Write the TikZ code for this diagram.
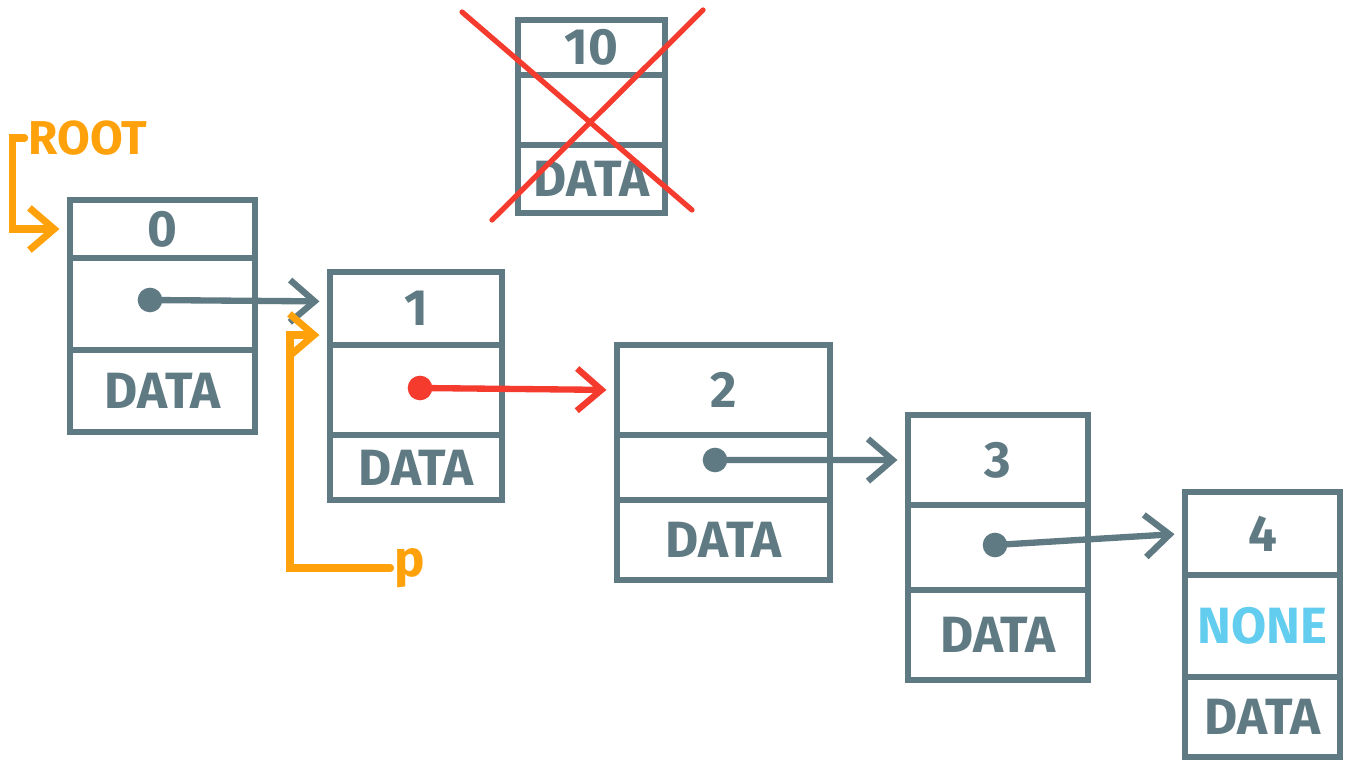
\documentclass[tikz,border=0pt]{standalone}
\usepackage{fontspec}
\setmainfont{Fira Sans}
\usepackage{xcolor}
\usetikzlibrary{arrows.meta, positioning}

\definecolor{slate}{HTML}{5F7A82}
\definecolor{refor}{HTML}{FFA10A}
\definecolor{hotred}{HTML}{F43B2E}
\definecolor{skyblue}{HTML}{62CDEE}

\begin{document}
\begin{tikzpicture}[
  x=0.01cm, y=-0.01cm,
  font=\fontsize{14.5}{17}\selectfont\bfseries,
  cell/.style={draw=slate, line width=1.8pt, text=slate, inner sep=0pt, outer sep=0pt,
               anchor=north west},
  dot/.style={circle, fill=slate, inner sep=0pt, minimum size=7pt},
  ptr/.style={-{Straight Barb[length=7pt, width=12pt]}, line width=1.8pt, draw=slate,
              line cap=round, shorten >=3pt},
  ref/.style={-{Straight Barb[length=7pt, width=12pt]}, line width=2pt, draw=refor,
              line cap=round, shorten >=3pt},
  lbl/.style={text=refor, inner sep=1pt},
]
\useasboundingbox (0,0) rectangle (1348,761);

%% ── Node 0 ────────────────────────────────────────────────────────────────
\node[cell, minimum width=1.85cm, minimum height=0.58cm] (b0key)  at (70,200)           {0};
\node[cell, minimum width=1.85cm, minimum height=0.92cm] (b0ptr)  at (b0key.south west) {};
\node[cell, minimum width=1.85cm, minimum height=0.82cm] (b0data) at (b0ptr.south west) {DATA};

%% ── Node 1 ────────────────────────────────────────────────────────────────
\node[cell, minimum width=1.72cm, minimum height=0.73cm] (b1key)  at (330,272)          {1};
\node[cell, minimum width=1.72cm, minimum height=0.90cm] (b1ptr)  at (b1key.south west) {};
\node[cell, minimum width=1.72cm, minimum height=0.65cm] (b1data) at (b1ptr.south west) {DATA};

%% ── Node 2 ────────────────────────────────────────────────────────────────
\node[cell, minimum width=2.13cm, minimum height=0.90cm] (b2key)  at (617,345)          {2};
\node[cell, minimum width=2.13cm, minimum height=0.65cm] (b2ptr)  at (b2key.south west) {};
\node[cell, minimum width=2.13cm, minimum height=0.80cm] (b2data) at (b2ptr.south west) {DATA};

%% ── Node 3 ────────────────────────────────────────────────────────────────
\node[cell, minimum width=1.80cm, minimum height=0.90cm] (b3key)  at (908,415)          {3};
\node[cell, minimum width=1.80cm, minimum height=0.85cm] (b3ptr)  at (b3key.south west) {};
\node[cell, minimum width=1.80cm, minimum height=0.90cm] (b3data) at (b3ptr.south west) {DATA};

%% ── Node 4 (tail) ─────────────────────────────────────────────────────────
\node[cell, minimum width=1.55cm, minimum height=0.83cm] (b4key)  at (1185,492)         {4};
\node[cell, minimum width=1.55cm, minimum height=1.02cm, text=skyblue]
                                                          (b4ptr)  at (b4key.south west) {NONE};
\node[cell, minimum width=1.55cm, minimum height=0.80cm] (b4data) at (b4ptr.south west) {DATA};

%% ── Removed node 10 ───────────────────────────────────────────────────────
\node[cell, minimum width=1.47cm, minimum height=0.55cm] (b10key)  at (518,20)            {10};
\node[cell, minimum width=1.47cm, minimum height=0.70cm] (b10ptr)  at (b10key.south west) {};
\node[cell, minimum width=1.47cm, minimum height=0.68cm] (b10data) at (b10ptr.south west) {DATA};
\draw[hotred, line width=1.5pt, line cap=round] (462,12) -- (692,210);
\draw[hotred, line width=1.5pt, line cap=round] (703,10) -- (492,220);

%% ── Pointer dots and links ────────────────────────────────────────────────
\node[dot] (dot0) at (150,300) {};
\node[dot, fill=hotred] (dot1) at (420,388) {};
\node[dot] (dot2) at (715,460) {};
\node[dot] (dot3) at (995,545) {};

\draw[ptr] (dot0.center) -- ([yshift=2pt]b1key.west);
\draw[ptr, draw=hotred] (dot1.center) -- (b2key.west);
\draw[ptr] (dot2.center) -- (b3key.west);
\draw[ptr] (dot3.center) -- (b4key.west);

%% ── References: root and p ────────────────────────────────────────────────
\node[lbl, font=\fontsize{13.5}{16}\selectfont\bfseries] (root) at (88,138) {ROOT};
\node[lbl] (plbl) at (410,568) {p};
\coordinate (pbend) at (290,335);

\draw[ref] (root.west) -- ++(-12,0) |- (b0key.west);
\draw[ref] (plbl.west) -| (pbend) -- (b1key.west |- pbend);

\end{tikzpicture}
\end{document}
